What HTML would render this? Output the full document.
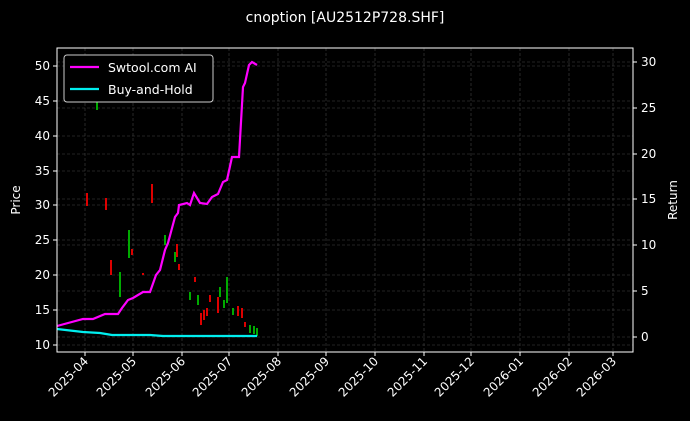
<!DOCTYPE html><html><head><style>body{margin:0;background:#000}svg{display:block}text{font-family:"DejaVu Sans","Liberation Sans",sans-serif;fill:#fff}</style></head><body>
<svg width="690" height="421" viewBox="0 0 690 421" xmlns="http://www.w3.org/2000/svg">
<rect width="690" height="421" fill="#000"/>
<text x="345" y="22" font-size="14" text-anchor="middle">cnoption [AU2512P728.SHF]</text>
<g stroke="#444" stroke-width="0.6" stroke-dasharray="3,2">
<line x1="85" y1="48" x2="85" y2="352"/><line x1="133" y1="48" x2="133" y2="352"/><line x1="182" y1="48" x2="182" y2="352"/><line x1="229" y1="48" x2="229" y2="352"/><line x1="278" y1="48" x2="278" y2="352"/><line x1="326" y1="48" x2="326" y2="352"/><line x1="375" y1="48" x2="375" y2="352"/><line x1="424" y1="48" x2="424" y2="352"/><line x1="471" y1="48" x2="471" y2="352"/><line x1="520" y1="48" x2="520" y2="352"/><line x1="569" y1="48" x2="569" y2="352"/><line x1="613" y1="48" x2="613" y2="352"/>
<line x1="57" y1="345" x2="633" y2="345"/><line x1="57" y1="310" x2="633" y2="310"/><line x1="57" y1="275" x2="633" y2="275"/><line x1="57" y1="240" x2="633" y2="240"/><line x1="57" y1="205" x2="633" y2="205"/><line x1="57" y1="171" x2="633" y2="171"/><line x1="57" y1="136" x2="633" y2="136"/><line x1="57" y1="101" x2="633" y2="101"/><line x1="57" y1="66" x2="633" y2="66"/>
<line x1="57" y1="337" x2="633" y2="337"/><line x1="57" y1="291" x2="633" y2="291"/><line x1="57" y1="245" x2="633" y2="245"/><line x1="57" y1="199" x2="633" y2="199"/><line x1="57" y1="154" x2="633" y2="154"/><line x1="57" y1="108" x2="633" y2="108"/><line x1="57" y1="62" x2="633" y2="62"/>
</g>
<g stroke-width="2">
<line x1="87" y1="193" x2="87" y2="206" stroke="#d00"/><line x1="97" y1="93" x2="97" y2="110" stroke="#0a0"/><line x1="106" y1="198" x2="106" y2="210" stroke="#d00"/><line x1="111" y1="260" x2="111" y2="275" stroke="#d00"/><line x1="120" y1="272" x2="120" y2="297" stroke="#0a0"/><line x1="129" y1="230" x2="129" y2="258" stroke="#0a0"/><line x1="132" y1="249" x2="132" y2="255" stroke="#d00"/><line x1="143" y1="273" x2="143" y2="275" stroke="#d00"/><line x1="152" y1="184" x2="152" y2="203" stroke="#d00"/><line x1="165" y1="235" x2="165" y2="245" stroke="#0a0"/><line x1="175" y1="252" x2="175" y2="262" stroke="#0a0"/><line x1="177" y1="244" x2="177" y2="257" stroke="#d00"/><line x1="179" y1="264" x2="179" y2="270" stroke="#d00"/><line x1="190" y1="292" x2="190" y2="300" stroke="#0a0"/><line x1="195" y1="277" x2="195" y2="282" stroke="#d00"/><line x1="198" y1="295" x2="198" y2="305" stroke="#0a0"/><line x1="201" y1="313" x2="201" y2="325" stroke="#d00"/><line x1="204" y1="310" x2="204" y2="320" stroke="#d00"/><line x1="207" y1="308" x2="207" y2="316" stroke="#d00"/><line x1="210" y1="295" x2="210" y2="302" stroke="#d00"/><line x1="218" y1="297" x2="218" y2="313" stroke="#d00"/><line x1="220" y1="287" x2="220" y2="297" stroke="#0a0"/><line x1="224" y1="300" x2="224" y2="308" stroke="#0a0"/><line x1="227" y1="277" x2="227" y2="303" stroke="#0a0"/><line x1="233" y1="308" x2="233" y2="315" stroke="#0a0"/><line x1="238" y1="306" x2="238" y2="316" stroke="#d00"/><line x1="242" y1="308" x2="242" y2="318" stroke="#d00"/><line x1="245" y1="322" x2="245" y2="327" stroke="#d00"/><line x1="250" y1="325" x2="250" y2="333" stroke="#0a0"/><line x1="254" y1="326" x2="254" y2="334" stroke="#0a0"/><line x1="257" y1="328" x2="257" y2="336" stroke="#0a0"/>
</g>
<polyline fill="none" stroke="#0ee" stroke-width="2.2" points="57,329 83,332 100,333 112,335 150,335 163,336 257,336"/>
<polyline fill="none" stroke="#f0f" stroke-width="2.2" points="57,326 83,319 93,319 105,314 118,314 122,308 128,300 133,298 143,292 150,292 156,275 160,270 165,250 168,243 175,217 178,213 179,205 187,203 190,205 194,193 200,203 207,204 212,197 218,194 223,182 227,180 232,157 239,157 243,87 245,83 249,65 252,62 257,65"/>
<rect x="57" y="48" width="576" height="304" fill="none" stroke="#fff" stroke-width="1"/>
<g stroke="#fff" stroke-width="1">
<line x1="85" y1="352" x2="85" y2="356"/><line x1="133" y1="352" x2="133" y2="356"/><line x1="182" y1="352" x2="182" y2="356"/><line x1="229" y1="352" x2="229" y2="356"/><line x1="278" y1="352" x2="278" y2="356"/><line x1="326" y1="352" x2="326" y2="356"/><line x1="375" y1="352" x2="375" y2="356"/><line x1="424" y1="352" x2="424" y2="356"/><line x1="471" y1="352" x2="471" y2="356"/><line x1="520" y1="352" x2="520" y2="356"/><line x1="569" y1="352" x2="569" y2="356"/><line x1="613" y1="352" x2="613" y2="356"/>
<line x1="53" y1="345" x2="57" y2="345"/><line x1="53" y1="310" x2="57" y2="310"/><line x1="53" y1="275" x2="57" y2="275"/><line x1="53" y1="240" x2="57" y2="240"/><line x1="53" y1="205" x2="57" y2="205"/><line x1="53" y1="171" x2="57" y2="171"/><line x1="53" y1="136" x2="57" y2="136"/><line x1="53" y1="101" x2="57" y2="101"/><line x1="53" y1="66" x2="57" y2="66"/>
<line x1="633" y1="337" x2="637" y2="337"/><line x1="633" y1="291" x2="637" y2="291"/><line x1="633" y1="245" x2="637" y2="245"/><line x1="633" y1="199" x2="637" y2="199"/><line x1="633" y1="154" x2="637" y2="154"/><line x1="633" y1="108" x2="637" y2="108"/><line x1="633" y1="62" x2="637" y2="62"/>
</g>
<g font-size="12" text-anchor="end">
<text x="50" y="349">10</text><text x="50" y="314">15</text><text x="50" y="279">20</text><text x="50" y="244">25</text><text x="50" y="209">30</text><text x="50" y="175">35</text><text x="50" y="140">40</text><text x="50" y="105">45</text><text x="50" y="70">50</text>
</g>
<g font-size="12">
<text x="641" y="341">0</text><text x="641" y="295">5</text><text x="641" y="249">10</text><text x="641" y="203">15</text><text x="641" y="158">20</text><text x="641" y="112">25</text><text x="641" y="66">30</text>
</g>
<text transform="translate(20,200) rotate(-90)" font-size="12" text-anchor="middle">Price</text>
<text transform="translate(677,200) rotate(-90)" font-size="12" text-anchor="middle">Return</text>
<g font-size="12" text-anchor="end">
<text transform="translate(89,362) rotate(-45)">2025-04</text><text transform="translate(137,362) rotate(-45)">2025-05</text><text transform="translate(186,362) rotate(-45)">2025-06</text><text transform="translate(233,362) rotate(-45)">2025-07</text><text transform="translate(282,362) rotate(-45)">2025-08</text><text transform="translate(330,362) rotate(-45)">2025-09</text><text transform="translate(379,362) rotate(-45)">2025-10</text><text transform="translate(428,362) rotate(-45)">2025-11</text><text transform="translate(475,362) rotate(-45)">2025-12</text><text transform="translate(524,362) rotate(-45)">2026-01</text><text transform="translate(573,362) rotate(-45)">2026-02</text><text transform="translate(617,362) rotate(-45)">2026-03</text>
</g>
<rect x="64" y="55" width="149" height="47" rx="3" fill="#000" stroke="#ccc" stroke-width="1"/>
<line x1="70" y1="67" x2="99" y2="67" stroke="#f0f" stroke-width="2.2"/>
<line x1="70" y1="89" x2="99" y2="89" stroke="#0ee" stroke-width="2.2"/>
<text x="108" y="72" font-size="12.5">Swtool.com AI</text>
<text x="108" y="94" font-size="12.5">Buy-and-Hold</text>
</svg></body></html>
